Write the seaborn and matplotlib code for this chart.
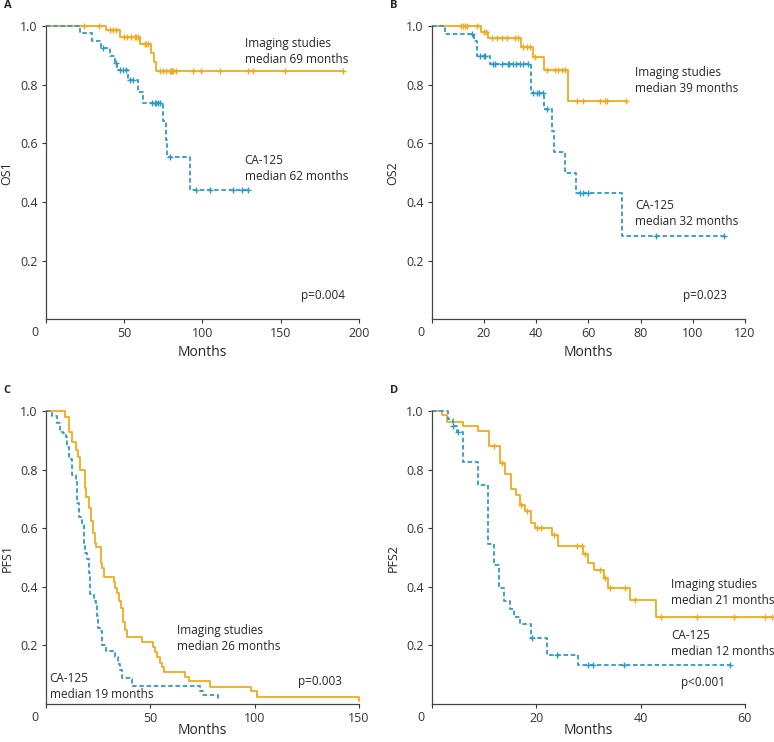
"""
Kaplan-Meier curves: imaging studies vs CA-125
"""
#%% import libraries
import numpy as np
import pandas as pd
import matplotlib.pyplot as plt
import seaborn as sns

sns.set_style("ticks")
plt.rcParams['font.family'] = ['Open Sans', 'DejaVu Sans']

ORANGE = "#F2AA1F"
BLUE = "#2E9CC2"

#%% data (months, survival)
# A - OS1
a_img_t = [0, 38.5, 47, 60, 67, 69, 70, 190]
a_img_s = [1.0, 0.986, 0.963, 0.941, 0.91, 0.878, 0.847, 0.847]
a_img_c = [24, 34, 40.6, 42.7, 44.8, 50, 52, 54.5, 56.7, 57.7, 58.8, 63, 64, 65, 72.6, 74.8,
           76.9, 79, 79.7, 80.3, 81.2, 83.3, 94, 99, 111, 129, 132, 152.5, 190]
a_ca_t = [0, 21.5, 29.6, 35.4, 40.7, 43.9, 45.4, 52.4, 58.8, 62, 74.8, 76.5, 77.5, 92.2, 129]
a_ca_s = [1.0, 0.976, 0.95, 0.925, 0.9, 0.876, 0.85, 0.815, 0.775, 0.738, 0.676, 0.611, 0.552, 0.441, 0.441]
a_ca_c = [36.5, 44.5, 47, 49, 51, 54, 55.6, 68, 69.4, 70.5, 71.6, 73, 79, 96, 105, 119.5, 125, 129]

# B - OS2
b_img_t = [0, 18.9, 21.7, 34.2, 38.9, 42.8, 52.3, 74.3]
b_img_s = [1.0, 0.982, 0.96, 0.93, 0.895, 0.85, 0.745, 0.745]
b_img_c = [11.1, 11.9, 12.8, 13.4, 17.2, 19.8, 20.8, 23, 24.9, 26.8, 28.7, 31.9, 33.2, 35.1, 36.4,
           37.7, 39.6, 44, 47.2, 48.5, 49.8, 51.1, 55.5, 58.1, 64.5, 66.4, 67.3, 74.3]
b_ca_t = [0, 5.1, 16.2, 17.2, 22.3, 37.9, 43, 46.2, 46.9, 51.1, 55.2, 73, 112]
b_ca_s = [1.0, 0.975, 0.949, 0.9, 0.872, 0.773, 0.716, 0.642, 0.57, 0.499, 0.43, 0.285, 0.285]
b_ca_c = [15.3, 18.5, 19.8, 20.4, 23.4, 24.3, 26.8, 29, 29.7, 31, 32.3, 33.6, 35.1, 37, 38.9, 40.2,
          41.2, 42.5, 44, 56.6, 58.1, 60, 86, 112]

# C - PFS1
c_img_t = [0, 8.9, 10.9, 12.5, 14.2, 15.3, 16.1, 18.5, 19.3, 20.4, 21.7, 22.5, 23.6, 24.1, 26.2, 27,
           27.8, 32.4, 33.2, 34, 35, 36.1, 36.9, 37.7, 38.8, 46.2, 51.3, 52.1, 53.2, 54.8, 55.6, 56.5,
           66.5, 68.5, 78.4, 98.4, 101.3, 150]
c_img_s = [1.0, 0.982, 0.93, 0.896, 0.867, 0.844, 0.798, 0.739, 0.707, 0.67, 0.624, 0.585, 0.55, 0.537,
           0.482, 0.463, 0.434, 0.418, 0.397, 0.38, 0.351, 0.328, 0.28, 0.253, 0.229, 0.212, 0.194,
           0.177, 0.16, 0.14, 0.125, 0.108, 0.091, 0.077, 0.059, 0.043, 0.025, 0.01]
c_img_c = []
c_ca_t = [0, 3, 5.3, 6.5, 8.1, 9.7, 10.2, 11, 12.5, 14.2, 14.9, 15.7, 17.4, 18, 18.7, 19.6, 20.4, 21.2,
          22.8, 24.1, 24.4, 25.1, 26, 27, 28.9, 32.1, 32.9, 34.5, 35.6, 36.6, 40.1, 41.4, 73.6, 75.2, 82.4]
c_ca_s = [1.0, 0.984, 0.959, 0.929, 0.925, 0.913, 0.878, 0.836, 0.782, 0.762, 0.688, 0.64, 0.619, 0.551,
          0.517, 0.494, 0.448, 0.376, 0.353, 0.334, 0.3, 0.26, 0.249, 0.203, 0.182, 0.175, 0.16, 0.137,
          0.115, 0.089, 0.085, 0.06, 0.046, 0.032, 0.012]
c_ca_c = []

# D - PFS2
d_img_t = [0, 1.9, 2.9, 5.9, 8.9, 11, 13.1, 14, 15.1, 16.1, 16.9, 17.9, 19, 19.8, 23.1, 24.1, 29, 30,
           31, 32.9, 33.8, 38, 42.9, 65.1]
d_img_s = [1.0, 0.986, 0.965, 0.949, 0.932, 0.88, 0.824, 0.787, 0.733, 0.714, 0.679, 0.659, 0.619,
           0.602, 0.579, 0.539, 0.511, 0.482, 0.457, 0.429, 0.397, 0.357, 0.296, 0.296]
d_img_c = [11.9, 13.4, 17.1, 18.3, 20.2, 20.9, 23.5, 27.9, 28.7, 29.4, 32.2, 33.1, 34.1, 37, 38.9,
           43.9, 50.9, 57.9, 63.9, 65.1]
d_ca_t = [0, 3.1, 4, 4.9, 5.9, 8.9, 10.8, 11.9, 12.9, 13.8, 14.9, 15.8, 16.8, 19, 22, 28, 57.1]
d_ca_s = [1.0, 0.975, 0.95, 0.928, 0.827, 0.749, 0.548, 0.474, 0.397, 0.351, 0.323, 0.298, 0.275,
          0.226, 0.167, 0.133, 0.133]
d_ca_c = [4.1, 5.0, 19.1, 23.9, 30, 30.8, 36.8, 57.1]

panels = [
    dict(letter="A", ylab="OS1", xmax=200, xstep=50, img=(a_img_t, a_img_s, a_img_c), ca=(a_ca_t, a_ca_s, a_ca_c),
         img_txt=(127, 0.965), ca_txt=(127, 0.565), p="p=0.004", p_xy=(191, 0.08)),
    dict(letter="B", ylab="OS2", xmax=120, xstep=20, img=(b_img_t, b_img_s, b_img_c), ca=(b_ca_t, b_ca_s, b_ca_c),
         img_txt=(78, 0.865), ca_txt=(78, 0.41), p="p=0.023", p_xy=(113, 0.08)),
    dict(letter="C", ylab="PFS1", xmax=150, xstep=50, img=(c_img_t, c_img_s, c_img_c), ca=(c_ca_t, c_ca_s, c_ca_c),
         img_txt=(63, 0.275), ca_txt=(1.8, 0.11), p="p=0.003", p_xy=(142, 0.078)),
    dict(letter="D", ylab="PFS2", xmax=60, xstep=20, img=(d_img_t, d_img_s, d_img_c), ca=(d_ca_t, d_ca_s, d_ca_c),
         img_txt=(45.8, 0.43), ca_txt=(45.8, 0.255), p="p<0.001", p_xy=(56.3, 0.072)),
]
img_labels = {"A": "median 69 months", "B": "median 39 months", "C": "median 26 months", "D": "median 21 months"}
ca_labels = {"A": "median 62 months", "B": "median 32 months", "C": "median 19 months", "D": "median 12 months"}

#%% plot
fig = plt.figure(figsize=(7.74, 7.42), dpi=100)
positions = [(0.0594, 0.570), (0.558, 0.570), (0.0594, 0.0512), (0.558, 0.0512)]


def draw_curve(ax, t, s, c, color, ls):
    df = pd.DataFrame({"t": t, "s": s})
    sns.lineplot(data=df, x="t", y="s", ax=ax, color=color, drawstyle="steps-post",
                 linestyle=ls, linewidth=1.3, clip_on=False, estimator=None, sort=False)
    if len(c):
        idx = np.searchsorted(np.array(t), np.array(c), side="right") - 1
        cy = np.array(s)[idx]
        ax.plot(c, cy, linestyle="none", marker="+", markersize=5, markeredgewidth=1,
                color=color, clip_on=False)


for pos, p in zip(positions, panels):
    ax = fig.add_axes([pos[0], pos[1], 0.4044, 0.3945])
    draw_curve(ax, *p["img"], ORANGE, "-")
    draw_curve(ax, *p["ca"], BLUE, (0, (2.5, 1.5)))
    ax.set_xlim(0, p["xmax"])
    ax.set_ylim(0, 1.0)
    ax.set_xticks(np.arange(0, p["xmax"] + 1, p["xstep"]))
    ax.set_xticklabels([""] + [str(v) for v in np.arange(p["xstep"], p["xmax"] + 1, p["xstep"])])
    ax.set_yticks([0.2, 0.4, 0.6, 0.8, 1.0])
    ax.set_yticklabels(["0.2", "0.4", "0.6", "0.8", "1.0"])
    ax.tick_params(labelsize=9, length=3, width=0.8, colors="#333333", pad=3)
    ax.text(-0.035, -0.045, "0", transform=ax.transAxes, ha="center", va="center", fontsize=9, color="#333333")
    sns.despine(ax=ax)
    for sp in ["left", "bottom"]:
        ax.spines[sp].set_color("#444444")
        ax.spines[sp].set_linewidth(0.9)
    ax.set_xlabel("Months", fontsize=10)
    ax.xaxis.set_label_coords(0.5, -0.088 if p["letter"] in "AB" else -0.066)
    ax.set_ylabel(p["ylab"], fontsize=9)
    ax.yaxis.set_label_coords(-0.103, 0.5)
    ax.text(*p["img_txt"], "Imaging studies\n" + img_labels[p["letter"]], fontsize=8.5,
            va="top", ha="left", linespacing=1.3)
    ax.text(*p["ca_txt"], "CA-125\n" + ca_labels[p["letter"]], fontsize=8.5,
            va="top", ha="left", linespacing=1.3)
    ax.text(*p["p_xy"], p["p"], fontsize=8.5, ha="right", va="center")
    ax.text(-0.135, 1.072, p["letter"], transform=ax.transAxes,
            fontsize=8, fontweight="bold", ha="left", va="center")

fig.savefig("out.png", dpi=100)
